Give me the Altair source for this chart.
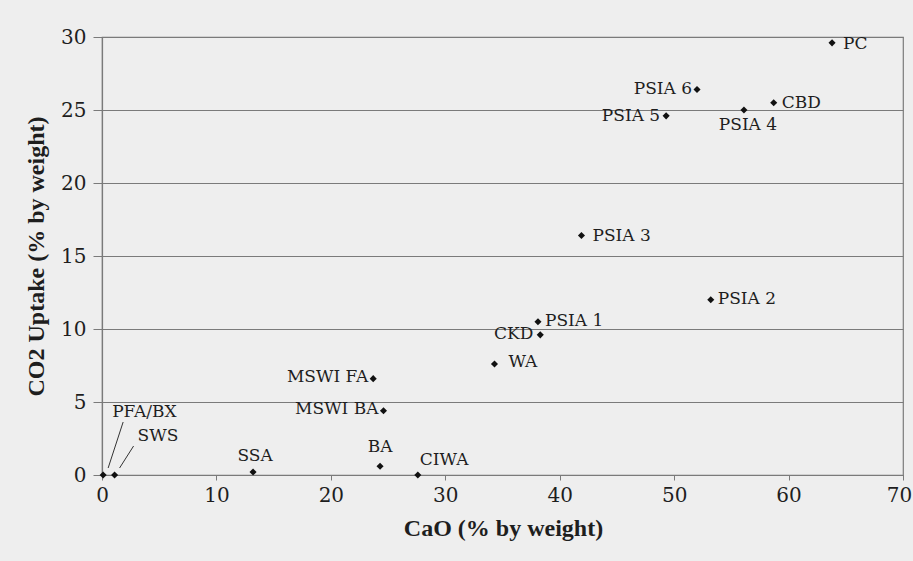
import altair as alt
import pandas as pd

# Materials and their CaO content vs. CO2 uptake (% by weight)
materials = ["PC", "PSIA 6", "PSIA 5", "PSIA 4", "CBD", "PSIA 3", "PSIA 2",
             "PSIA 1", "CKD", "WA", "MSWI FA", "MSWI BA", "BA", "CIWA",
             "SSA", "PFA/BX", "SWS"]
cao = [63.8, 52.0, 49.3, 56.1, 58.7, 41.9, 53.2,
       38.1, 38.3, 34.3, 23.7, 24.6, 24.3, 27.6,
       13.2, 0.1, 1.1]
co2_uptake = [29.6, 26.4, 24.6, 25.0, 25.5, 16.4, 12.0,
              10.5, 9.6, 7.6, 6.6, 4.4, 0.6, 0.0,
              0.2, 0.0, 0.0]

x_ticks = [0, 10, 20, 30, 40, 50, 60, 70]
y_ticks = [0, 5, 10, 15, 20, 25, 30]

# label placement: (align, dx, dy) in pixels relative to each point
label_style = {
    "PC": ("left", 11, 1),
    "PSIA 6": ("right", -5, -1),
    "PSIA 5": ("right", -6, 0),
    "PSIA 4": ("center", 4, 15),
    "CBD": ("left", 8, 0),
    "PSIA 3": ("left", 11, 0),
    "PSIA 2": ("left", 7, -1),
    "PSIA 1": ("left", 7, -1),
    "CKD": ("right", -7, -1),
    "WA": ("left", 14, -2),
    "MSWI FA": ("right", -5, -2),
    "MSWI BA": ("right", -5, -2),
    "BA": ("center", 0, -19),
    "CIWA": ("left", 2, -15),
    "SSA": ("center", 2, -16),
    "PFA/BX": ("left", 9, -63),
    "SWS": ("left", 23, -39),
}

# leader lines from point to label (pixel offsets: start dx, dy, end dx, dy)
leaders = {
    "PFA/BX": (5, -7, 20, -53),
    "SWS": (5, -7, 19, -29),
}

df = pd.DataFrame({"material": materials, "cao": cao, "co2": co2_uptake})

FONT = "DejaVu Serif"
TITLE_FONT = "Liberation Serif"
TEXT = "#1e1e1e"
LINE = "#7a7a7a"

x_enc = alt.X("cao:Q", scale=alt.Scale(domain=[0, 70], nice=False),
              axis=alt.Axis(values=x_ticks, title="CaO (% by weight)", grid=False,
                            tickSize=5, labelPadding=5, labelFlush=False,
                            # nudge the last label so it stays inside the canvas
                            labelOffset={"condition": {"test": "datum.value == 70", "value": -4},
                                         "value": 0},
                            titleX=401, titleY=53,
                            titleAlign="center", titleBaseline="middle"))
y_enc = alt.Y("co2:Q", scale=alt.Scale(domain=[0, 30], nice=False),
              axis=alt.Axis(values=y_ticks, title="CO2 Uptake (% by weight)", grid=True,
                            tickSize=9, labelPadding=7, labelFlush=False,
                            titleX=-66, titleY=219,
                            titleAngle=-90, titleAlign="center", titleBaseline="middle"))

base = alt.Chart(df)

points = base.mark_point(shape="diamond", filled=True, size=50, color="#111111", opacity=1).encode(
    x=x_enc, y=y_enc
)

layers = [points]

for name, (dx0, dy0, dx1, dy1) in leaders.items():
    layers.append(
        base.transform_filter(alt.datum.material == name)
        .mark_rule(color="#333333", strokeWidth=1,
                   xOffset=dx0, yOffset=dy0, x2Offset=dx1, y2Offset=dy1)
        .encode(x="cao:Q", y="co2:Q", x2="cao:Q", y2="co2:Q")
    )

for name, (align, dx, dy) in label_style.items():
    layers.append(
        base.transform_filter(alt.datum.material == name)
        .mark_text(align=align, baseline="middle", dx=dx, dy=dy,
                   font=FONT, fontSize=17, color=TEXT)
        .encode(x="cao:Q", y="co2:Q", text="material:N")
    )

chart = alt.layer(*layers).properties(
    width=801, height=438,
    autosize=alt.AutoSizeParams(type="none"),
    padding={"left": 102, "top": 37, "right": 10, "bottom": 86},
    background="#eeeeee",
).configure_view(
    stroke=LINE, strokeWidth=1.2, fill="#eeeeee"
).configure_axis(
    domainColor=LINE, domainWidth=1.2, gridColor=LINE, gridWidth=1.2,
    tickColor=LINE, labelFont=FONT, labelFontSize=20, labelColor=TEXT,
    titleFont=TITLE_FONT, titleFontSize=24, titleFontWeight="bold", titleColor=TEXT,
)

chart.save("out.html", embed_options={"renderer": "svg", "actions": False})
